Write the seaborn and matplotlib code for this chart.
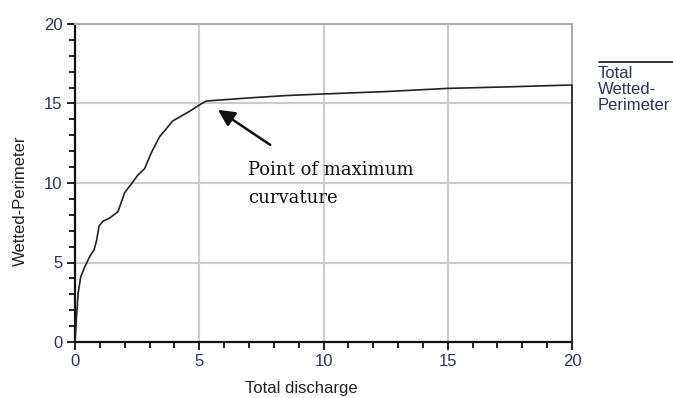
import numpy as np
import pandas as pd
import matplotlib
matplotlib.use('Agg')
import matplotlib.pyplot as plt
from matplotlib.ticker import MultipleLocator
import seaborn as sns

# curve
discharge = [0, 0.07, 0.13, 0.23, 0.4, 0.6, 0.77, 0.87, 0.97, 1.13, 1.4, 1.73, 2.0, 2.2,
             2.53, 2.8, 3.07, 3.4, 3.93, 4.6, 5.0, 5.27, 5.67, 7.0, 8.5, 10.0, 12.5,
             15.0, 17.5, 19.9, 20.0, 20.0]
perimeter = [0, 1.8, 3.1, 4.1, 4.75, 5.4, 5.8, 6.4, 7.3, 7.6, 7.8, 8.2, 9.4, 9.8,
             10.5, 10.9, 11.9, 12.9, 13.9, 14.5, 14.9, 15.15, 15.2, 15.35, 15.5, 15.6, 15.75,
             15.95, 16.05, 16.16, 16.16, 0]
x_ticks = [0, 5, 10, 15, 20]
y_ticks = [0, 5, 10, 15, 20]

df = pd.DataFrame({'Total discharge': discharge, 'Wetted-Perimeter': perimeter})

sns.set_style('white')
plt.rcParams['font.family'] = ['Liberation Sans', 'DejaVu Sans']
tick_col = '#2b3550'

fig = plt.figure(figsize=(6.73, 3.98), dpi=100)
ax = fig.add_axes([75 / 673, 1 - 342 / 398, 497 / 673, 318 / 398])

ax.grid(True, color='#cccccc', linewidth=1.5, zorder=0)
sns.lineplot(data=df, x='Total discharge', y='Wetted-Perimeter', sort=False,
             estimator=None, color='#222222', linewidth=1.2, ax=ax, zorder=3)
for ln in ax.lines:
    ln.set_clip_on(False)

ax.set_xlim(0, 20)
ax.set_ylim(0, 20)
ax.set_xticks(x_ticks)
ax.set_yticks(y_ticks)
ax.xaxis.set_minor_locator(MultipleLocator(1))
ax.yaxis.set_minor_locator(MultipleLocator(1))
ax.tick_params(which='both', direction='out', color='#111111', width=1.3,
               bottom=True, left=True, top=False, right=False)
ax.tick_params(which='major', length=6, labelsize=12, labelcolor=tick_col, pad=3)
ax.tick_params(which='minor', length=4)

for side in ['left', 'bottom']:
    ax.spines[side].set_color('#111111')
    ax.spines[side].set_linewidth(1.6)
for side in ['top', 'right']:
    ax.spines[side].set_color('#aaaaaa')
    ax.spines[side].set_linewidth(1.4)

ax.set_xlabel('Total discharge', fontsize=12, color='#222222', va='center')
ax.set_ylabel('Wetted-Perimeter', fontsize=12, color='#222222', va='center')
ax.xaxis.set_label_coords(0.455, -0.145)
ax.yaxis.set_label_coords(-0.109, 0.443)

ax.annotate('', xy=(5.66, 14.7), xytext=(7.95, 12.3),
            arrowprops=dict(arrowstyle='-|>,head_length=1.0,head_width=0.5',
                            color='#111111', linewidth=1.8), zorder=4)
ax.text(6.95, 10.8, 'Point of maximum', fontsize=13, family='DejaVu Serif',
        color='#111111', va='center', ha='left')
ax.text(6.95, 9.05, 'curvature', fontsize=13, family='DejaVu Serif',
        color='#111111', va='center', ha='left')

# legend drawn by hand to the right of the axes
fig.add_artist(plt.Line2D([599 / 673, 1.0], [1 - 62 / 398, 1 - 62 / 398],
                          color='#111111', linewidth=1.2))
fig.text(598 / 673, 1 - 66 / 398, 'Total\nWetted-\nPerimeter', fontsize=12,
         color=tick_col, va='top', ha='left', linespacing=1.1)

fig.savefig('out.png', dpi=100)
